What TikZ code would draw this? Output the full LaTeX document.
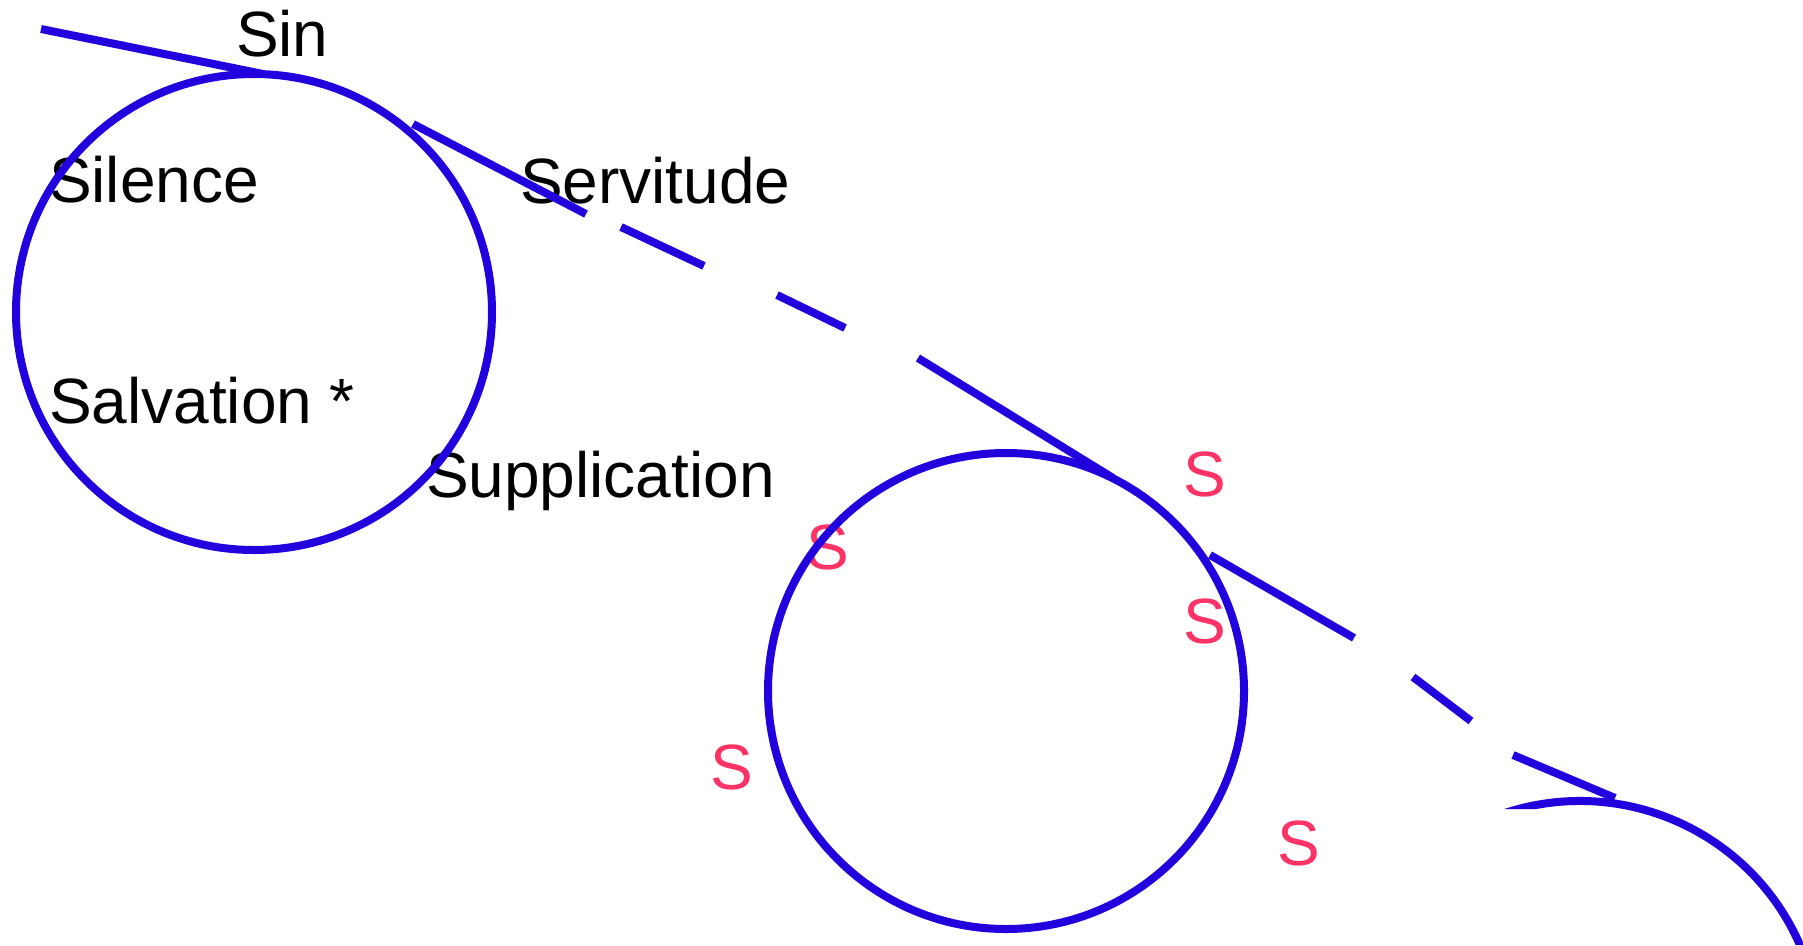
\documentclass[tikz,border=0pt]{standalone}
\usepackage{fontspec}
\setmainfont{Liberation Sans}
\definecolor{lineblue}{RGB}{34,0,221}
\definecolor{spink}{RGB}{255,51,102}
\begin{document}
\begin{tikzpicture}[x=1pt,y=-1pt,
  stroke/.style={draw=lineblue,line width=8pt},
  lbl/.style={anchor=base west,inner sep=0pt,outer sep=0pt,font=\fontsize{64}{77}\selectfont},
  blk/.style={lbl,text=black},
  pinkS/.style={lbl,text=spink}]
\useasboundingbox (0,0) rectangle (1803,945);
\clip (0,0) rectangle (1803,945);
\fill[white] (0,0) rectangle (1803,945);

% labels
\node[blk] (sin) at (236,56) {Sin};
\node[blk] (silence) at (49,202) {Silence};
\node[blk] (servitude) at (520,203) {Servitude};
\node[blk] (salvation) at (49,423) {Salvation *};
\node[blk] (supplication) at (426,497) {Supplication};

\node[pinkS] (s1) at (1183,496) {S};
\node[pinkS] (s2) at (806,569) {S};
\node[pinkS] (s3) at (1183,643) {S};
\node[pinkS] (s4) at (710,789) {S};
\node[pinkS] (s5) at (1277,865) {S};

% circles
\draw[stroke] (254,312) circle[radius=238];
\draw[stroke] (1006,691) circle[radius=238];
\begin{scope}
  \clip (1400,700) -- (1803,700) -- (1803,945) -- (1565,945) -- (1565,809) -- (1400,809) -- cycle;
  \draw[stroke] (1580,1041) ++(-115:240) arc[start angle=-115,end angle=10,radius=240];
\end{scope}

% Sin line
\coordinate (a0) at (41,29);
\coordinate (a1) at (263,74);
\draw[stroke] (a0) -- (a1);

% first broken line
\coordinate (b0) at (413,124); \coordinate (b1) at (586,214);
\coordinate (b2) at (621,227); \coordinate (b3) at (704,266);
\coordinate (b4) at (777,295); \coordinate (b5) at (845,328);
\coordinate (b6) at (918,358); \coordinate (b7) at (1113,478);
\draw[stroke] (b0) -- (b1);
\draw[stroke] (b2) -- (b3);
\draw[stroke] (b4) -- (b5);
\draw[stroke] (b6) -- (b7);

% second broken line
\coordinate (c0) at (1210,555); \coordinate (c1) at (1354,638);
\coordinate (c2) at (1413,677); \coordinate (c3) at (1471,721);
\coordinate (c4) at (1513,755); \coordinate (c5) at (1615,798);
\draw[stroke] (c0) -- (c1);
\draw[stroke] (c2) -- (c3);
\draw[stroke] (c4) -- (c5);
\end{tikzpicture}
\end{document}
